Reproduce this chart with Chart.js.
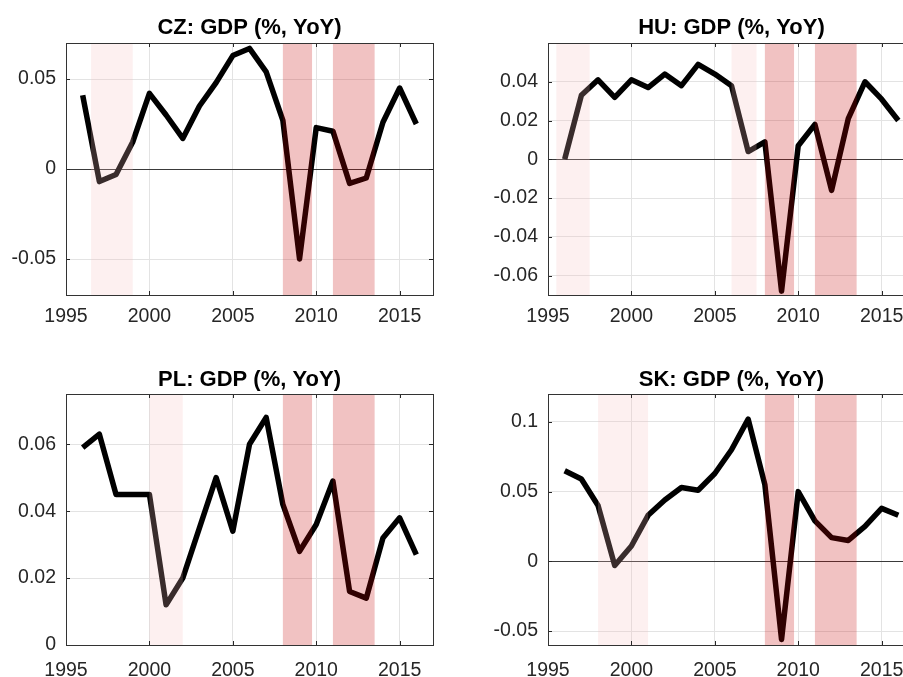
<!DOCTYPE html>
<html>
<head>
<meta charset="utf-8">
<script src="https://cdn.jsdelivr.net/npm/chart.js@4.4.1/dist/chart.umd.min.js"></script>
<style>
html, body { margin: 0; padding: 0; background: #fff; overflow: hidden; width: 903px; height: 677px; }
canvas { position: absolute; }
</style>
</head>
<body>
<canvas id="cz" width="451" height="338" style="left:0px;top:0px"></canvas>
<canvas id="hu" width="482" height="338" style="left:451px;top:0px"></canvas>
<canvas id="pl" width="451" height="339" style="left:0px;top:338px"></canvas>
<canvas id="sk" width="482" height="339" style="left:451px;top:338px"></canvas>
<script>
// data
var years = [1996, 1997, 1998, 1999, 2000, 2001, 2002, 2003, 2004, 2005, 2006,
             2007, 2008, 2009, 2010, 2011, 2012, 2013, 2014, 2015, 2016];

var czGdp = [0.041, -0.007, -0.003, 0.015, 0.042, 0.030, 0.017, 0.035, 0.048, 0.063, 0.067,
             0.054, 0.027, -0.050, 0.023, 0.021, -0.008, -0.005, 0.026, 0.045, 0.025];
var huGdp = [0.000, 0.033, 0.041, 0.032, 0.041, 0.037, 0.044, 0.038, 0.049, 0.044, 0.038,
             0.004, 0.009, -0.068, 0.007, 0.018, -0.016, 0.021, 0.040, 0.031, 0.020];
var plGdp = [0.059, 0.063, 0.045, 0.045, 0.045, 0.012, 0.020, 0.035, 0.050, 0.034, 0.060,
             0.068, 0.042, 0.028, 0.036, 0.049, 0.016, 0.014, 0.032, 0.038, 0.027];
var skGdp = [0.065, 0.059, 0.040, -0.003, 0.011, 0.033, 0.044, 0.053, 0.051, 0.063, 0.080,
             0.102, 0.055, -0.056, 0.050, 0.029, 0.017, 0.015, 0.025, 0.038, 0.033];

var xTicks = [1995, 2000, 2005, 2010, 2015];
var czTicks = [-0.05, 0, 0.05];
var huTicks = [-0.06, -0.04, -0.02, 0, 0.02, 0.04];
var plTicks = [0, 0.02, 0.04, 0.06];
var skTicks = [-0.05, 0, 0.05, 0.1];

// shaded periods
var recessionBands = [[2008, 2009.75], [2011, 2013.5]];
var czLight = [[1996.5, 1999]];
var huLight = [[1995.5, 1997.5], [2006, 2007.5]];
var plLight = [[2000, 2002]];
var skLight = [[1998, 2001]];

var FONT = "'Liberation Sans', Arial, Helvetica, sans-serif";

var boxPlugin = {
    id: 'box',
    afterDatasetsDraw: function(chart, args, opts) {
        var ctx = chart.ctx, a = chart.chartArea;
        var x = chart.scales.x, y = chart.scales.y;
        ctx.save();
        // shading on top of the line, like the original patches
        opts.light.forEach(function(b) {
            var x0 = x.getPixelForValue(b[0]), x1 = x.getPixelForValue(b[1]);
            ctx.fillStyle = 'rgba(247,192,192,0.23)';
            ctx.fillRect(x0, a.top, x1 - x0, a.bottom - a.top);
        });
        opts.dark.forEach(function(b) {
            var x0 = x.getPixelForValue(b[0]), x1 = x.getPixelForValue(b[1]);
            ctx.fillStyle = 'rgba(196,4,4,0.245)';
            ctx.fillRect(x0, a.top, x1 - x0, a.bottom - a.top);
        });
        // inward tick marks
        ctx.strokeStyle = '#262626';
        ctx.lineWidth = 1;
        ctx.beginPath();
        xTicks.forEach(function(v) {
            var px = Math.round(x.getPixelForValue(v)) + 0.5;
            ctx.moveTo(px, a.bottom); ctx.lineTo(px, a.bottom - 4);
            ctx.moveTo(px, a.top); ctx.lineTo(px, a.top + 4);
        });
        opts.yTicks.forEach(function(v) {
            var py = Math.round(y.getPixelForValue(v)) + 0.5;
            ctx.moveTo(a.left, py); ctx.lineTo(a.left + 4, py);
            ctx.moveTo(a.right, py); ctx.lineTo(a.right - 4, py);
        });
        ctx.stroke();
        // axes box
        ctx.strokeStyle = '#333333';
        ctx.strokeRect(Math.round(a.left) + 0.5, Math.round(a.top) + 0.5,
                       Math.round(a.right - a.left), Math.round(a.bottom - a.top));
        ctx.restore();
    }
};

function makeChart(id, title, values, yMin, yMax, yTicks, light, lay) {
    new Chart(document.getElementById(id), {
        type: 'line',
        data: {
            labels: years,
            datasets: [{
                data: values.map(function(v, i) { return { x: years[i], y: v }; }),
                borderColor: '#000000',
                borderWidth: 5.5,
                pointRadius: 0,
                tension: 0,
                borderJoinStyle: 'round'
            }]
        },
        options: {
            responsive: false,
            animation: false,
            layout: { padding: { left: 0, right: lay.right, top: 0, bottom: 0 } },
            scales: {
                x: {
                    type: 'linear',
                    min: 1995,
                    max: 2017,
                    afterBuildTicks: function(s) { s.ticks = xTicks.map(function(v) { return { value: v }; }); },
                    afterFit: function(s) { s.height = lay.xh; },
                    border: { display: false },
                    grid: { color: '#e3e3e3', drawTicks: false },
                    ticks: {
                        padding: lay.xpad,
                        maxRotation: 0,
                        color: '#262626',
                        font: { family: FONT, size: 19.5 },
                        callback: function(v) { return String(v); }
                    }
                },
                y: {
                    min: yMin,
                    max: yMax,
                    afterBuildTicks: function(s) { s.ticks = yTicks.map(function(v) { return { value: v }; }); },
                    afterFit: function(s) { s.width = lay.yw; },
                    border: { display: false },
                    grid: {
                        drawTicks: false,
                        color: function(c) { return c.tick && c.tick.value === 0 ? '#3a3a3a' : '#e3e3e3'; }
                    },
                    ticks: {
                        padding: 10,
                        color: '#262626',
                        font: { family: FONT, size: 19.5 },
                        callback: function(v) { return String(v); }
                    }
                }
            },
            plugins: {
                legend: { display: false },
                tooltip: { enabled: false },
                title: {
                    display: true,
                    text: title,
                    fullSize: false,
                    color: '#000000',
                    font: { family: FONT, size: 22, weight: 'bold', lineHeight: 1.2 },
                    padding: { top: lay.tpad, bottom: lay.tbot }
                },
                box: { light: light, dark: recessionBands, yTicks: yTicks }
            }
        },
        plugins: [boxPlugin]
    });
}

makeChart('cz', 'CZ: GDP (%, YoY)', czGdp, -0.07, 0.07, czTicks, czLight,
          { right: 18, yw: 66, xh: 43, xpad: 10, tpad: 15, tbot: 1.6 });
makeChart('hu', 'HU: GDP (%, YoY)', huGdp, -0.07, 0.06, huTicks, huLight,
          { right: 18, yw: 97, xh: 43, xpad: 10, tpad: 15, tbot: 1.6 });
makeChart('pl', 'PL: GDP (%, YoY)', plGdp, 0, 0.075, plTicks, plLight,
          { right: 18, yw: 66, xh: 32, xpad: 14, tpad: 29, tbot: 0.6 });
makeChart('sk', 'SK: GDP (%, YoY)', skGdp, -0.06, 0.12, skTicks, skLight,
          { right: 18, yw: 97, xh: 32, xpad: 14, tpad: 29, tbot: 0.6 });
</script>
</body>
</html>
